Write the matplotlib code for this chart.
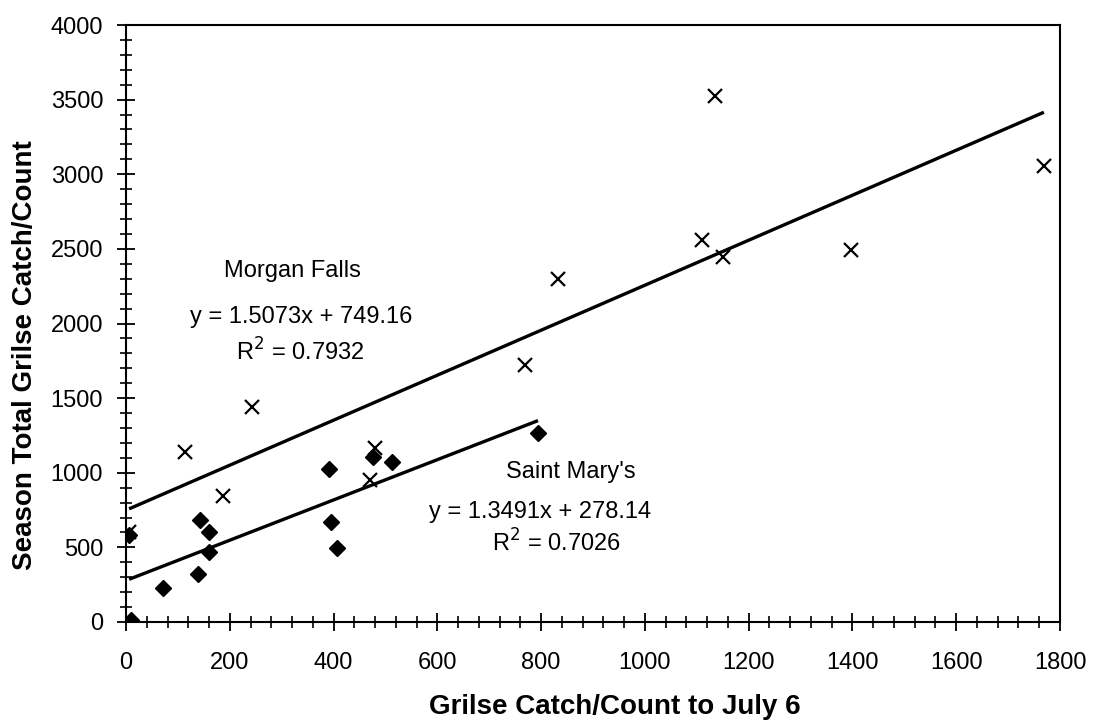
import matplotlib
matplotlib.use("Agg")
import matplotlib.pyplot as plt
import numpy as np
from matplotlib.ticker import MultipleLocator

# Data
morgan_x = [6, 114, 186, 242, 471, 480, 768, 833, 1111, 1136, 1150, 1397, 1769]
morgan_y = [603, 1136, 841, 1440, 953, 1166, 1720, 2300, 2557, 3526, 2446, 2494, 3057]

stmary_x = [9, 6, 72, 138, 143, 159, 159, 391, 395, 406, 476, 512, 794]
stmary_y = [11, 585, 228, 324, 681, 601, 466, 1027, 667, 496, 1105, 1070, 1266]

morgan_fit = [1.5073, 749.16]
stmary_fit = [1.3491, 278.14]

x_ticks = [0, 200, 400, 600, 800, 1000, 1200, 1400, 1600, 1800]
y_ticks = [0, 500, 1000, 1500, 2000, 2500, 3000, 3500, 4000]

plt.rcParams['font.family'] = ['Liberation Sans', 'DejaVu Sans']

W, H = 1094, 721
fig = plt.figure(figsize=(W/100, H/100), dpi=100)
ax = fig.add_axes([126/W, 1-622/H, (1060-126)/W, (622-25)/H])

# Trendlines
for xs, fit in ((morgan_x, morgan_fit), (stmary_x, stmary_fit)):
    lx = np.array([min(xs), max(xs)])
    ax.plot(lx, fit[0]*lx + fit[1], color='black', lw=2.4, solid_capstyle='butt', zorder=2)

ax.plot(stmary_x, stmary_y, linestyle='none', marker='D', markersize=8.5,
        color='black', zorder=3)
ax.plot(morgan_x, morgan_y, linestyle='none', marker='x', markersize=10,
        markeredgewidth=1.6, color='black', zorder=3)

ax.set_xlim(0, 1800)
ax.set_ylim(0, 4000)
ax.set_xticks(x_ticks)
ax.set_yticks(y_ticks)
ax.xaxis.set_minor_locator(MultipleLocator(40))
ax.yaxis.set_minor_locator(MultipleLocator(100))
ax.tick_params(which='major', direction='inout', length=13, width=1.3, labelsize=17, colors='black')
ax.tick_params(which='minor', direction='inout', length=9, width=1.2)
ax.tick_params(axis='x', which='major', pad=15)
ax.tick_params(axis='y', which='major', pad=10)
for s in ax.spines.values():
    s.set_linewidth(1.5)

fig.text(615/W, 1-707/H, 'Grilse Catch/Count to July 6', fontsize=20, fontweight='bold',
         ha='center', va='center')
fig.text(25/W, 1-355/H, 'Season Total Grilse Catch/Count', fontsize=20, fontweight='bold',
         ha='center', va='center', rotation=90)

fs = 17
ax.text(320, 2355, 'Morgan Falls', ha='center', va='center', fontsize=fs)
ax.text(337, 2045, 'y = 1.5073x + 749.16', ha='center', va='center', fontsize=fs)
ax.text(335, 1811, 'R$^2$ = 0.7932', ha='center', va='center', fontsize=fs)
ax.text(858, 1007, "Saint Mary's", ha='center', va='center', fontsize=fs)
ax.text(798, 740, 'y = 1.3491x + 278.14', ha='center', va='center', fontsize=fs)
ax.text(830, 528, 'R$^2$ = 0.7026', ha='center', va='center', fontsize=fs)

fig.savefig('out.png', dpi=100)
